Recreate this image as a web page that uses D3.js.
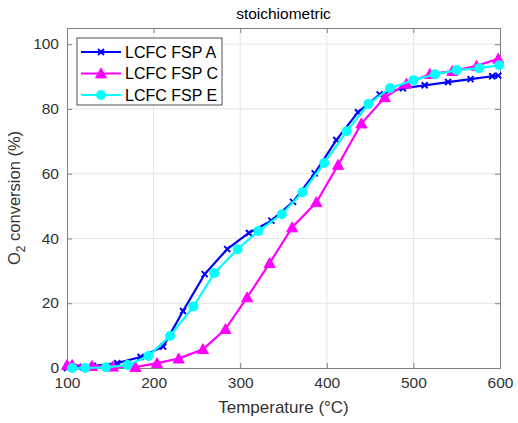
<!DOCTYPE html>
<html>
<head>
<meta charset="utf-8">
<script src="https://cdn.jsdelivr.net/npm/d3@7"></script>
<style>
  body { margin: 0; background: #fff; }
  text { font-family: "Liberation Sans", Arial, sans-serif; }
</style>
</head>
<body>
<svg id="chart" width="518" height="423"></svg>
<script>
// temperatures (°C) and O2 conversion (%)
const tempA = [100, 113, 130, 158, 185, 211, 234, 259, 285, 310, 336, 361, 386, 411, 436, 461, 488, 513, 540, 566, 591, 598];
const convA = [0, 0.3, 0.6, 1.5, 3.4, 6.6, 17.6, 29, 36.7, 41.7, 45.5, 51.3, 60.1, 70.4, 79, 84.5, 86.4, 87.3, 88.3, 89.2, 90.1, 90.3];

const tempC = [100, 106, 129, 153, 179, 204, 229, 257, 283, 308, 334, 360, 388, 413, 440, 467, 492, 519, 545, 573, 598];
const convC = [0.9, 0.9, 0.6, 0.4, 0.3, 1.5, 2.9, 5.8, 12, 21.8, 32.4, 43.4, 51.2, 62.7, 75.5, 83.6, 87.8, 90.8, 91.7, 93.3, 95.5];

const tempE = [106, 121, 145, 170, 194, 219, 246, 270, 297, 321, 348, 372, 397, 423, 448, 473, 500, 525, 550, 576, 599];
const convE = [0, 0, 0.2, 0.9, 3.7, 9.9, 19, 29.3, 36.7, 42.3, 47.5, 54.3, 63.3, 73.1, 81.5, 86.4, 88.9, 90.7, 92, 92.6, 93.5];

const seriesNames = ['LCFC FSP A', 'LCFC FSP C', 'LCFC FSP E'];
const xTicks = [100, 200, 300, 400, 500, 600];
const yTicks = [0, 20, 40, 60, 80, 100];

const series = [
  { name: seriesNames[0], t: tempA, v: convA, color: '#0000ff', marker: 'x' },
  { name: seriesNames[1], t: tempC, v: convC, color: '#ff00ff', marker: 'tri' },
  { name: seriesNames[2], t: tempE, v: convE, color: '#00ffff', marker: 'circle' }
];

const svg = d3.select('#chart');
const pLeft = 67, pRight = 500, pTop = 28, pBottom = 368;
const axisColor = '#808080', textColor = '#333333';

const x = d3.scaleLinear().domain([100, 600]).range([pLeft, pRight]);
const y = d3.scaleLinear().domain([0, 105]).range([pBottom, pTop]);

// grid
const grid = svg.append('g');
grid.selectAll('line.gx').data(xTicks.slice(1, -1)).enter().append('line')
  .attr('x1', d => x(d)).attr('x2', d => x(d)).attr('y1', pTop).attr('y2', pBottom)
  .attr('stroke', '#e5e5e5').attr('stroke-width', 1);
grid.selectAll('line.gy').data(yTicks.slice(1)).enter().append('line')
  .attr('x1', pLeft).attr('x2', pRight).attr('y1', d => y(d)).attr('y2', d => y(d))
  .attr('stroke', '#e5e5e5').attr('stroke-width', 1);

// axes (ticks inside, box)
const xAxis = svg.append('g').attr('transform', `translate(0,${pBottom})`)
  .call(d3.axisBottom(x).tickValues(xTicks).tickSize(-5).tickPadding(12));
const xTop = svg.append('g').attr('transform', `translate(0,${pTop})`)
  .call(d3.axisTop(x).tickValues(xTicks).tickSize(-5).tickFormat(''));
const yAxis = svg.append('g').attr('transform', `translate(${pLeft},0)`)
  .call(d3.axisLeft(y).tickValues(yTicks).tickSize(-5).tickPadding(8));
const yRight = svg.append('g').attr('transform', `translate(${pRight},0)`)
  .call(d3.axisRight(y).tickValues(yTicks).tickSize(-5).tickFormat(''));

[xAxis, xTop, yAxis, yRight].forEach(g => {
  g.selectAll('path').attr('stroke', axisColor).attr('stroke-width', 1);
  g.selectAll('line').attr('stroke', axisColor);
  g.selectAll('text').attr('fill', textColor).style('font-size', '15.5px');
});
xAxis.selectAll('text').attr('dy', '0.5em');
yAxis.selectAll('text').attr('dy', '0.3em');

// series
const line = d3.line();
const plot = svg.append('g');

function drawMarker(g, type, color, cx, cy) {
  if (type === 'circle') {
    g.append('circle').attr('cx', cx).attr('cy', cy).attr('r', 5).attr('fill', color);
  } else if (type === 'tri') {
    const s = 5.5;
    g.append('path')
      .attr('d', `M${cx},${cy - s}L${cx + s},${cy + s * 0.8}L${cx - s},${cy + s * 0.8}Z`)
      .attr('fill', color).attr('stroke', color).attr('stroke-width', 1);
  } else {
    const s = 3;
    g.append('path')
      .attr('d', `M${cx - s},${cy - s}L${cx + s},${cy + s}M${cx - s},${cy + s}L${cx + s},${cy - s}`)
      .attr('stroke', color).attr('stroke-width', 2);
  }
}

series.forEach(s => {
  const pts = s.t.map((t, i) => [x(t), y(s.v[i])]);
  const g = plot.append('g');
  g.append('path').attr('d', line(pts)).attr('fill', 'none')
    .attr('stroke', s.color).attr('stroke-width', 2.2);
  pts.forEach(p => drawMarker(g, s.marker, s.color, p[0], p[1]));
});

// legend
const lg = svg.append('g');
lg.append('rect').attr('x', 77).attr('y', 38).attr('width', 145).attr('height', 67)
  .attr('fill', '#fff').attr('stroke', '#262626').attr('stroke-width', 0.8);
series.forEach((s, i) => {
  const ly = 52 + i * 21.5;
  lg.append('line').attr('x1', 81).attr('x2', 121).attr('y1', ly).attr('y2', ly)
    .attr('stroke', s.color).attr('stroke-width', 2.2);
  drawMarker(lg, s.marker, s.color, 101, ly);
  lg.append('text').attr('x', 125).attr('y', ly).attr('dy', '0.36em')
    .attr('fill', '#000').style('font-size', '16px').text(s.name);
});

// labels
svg.append('text').attr('x', (pLeft + pRight) / 2).attr('y', 19).attr('text-anchor', 'middle')
  .attr('fill', '#000').style('font-size', '15.5px').text('stoichiometric');
svg.append('text').attr('x', (pLeft + pRight) / 2).attr('y', 413).attr('text-anchor', 'middle')
  .attr('fill', textColor).style('font-size', '17px').text('Temperature (°C)');
const yl = svg.append('text').attr('transform', `translate(20,${(pTop + pBottom) / 2}) rotate(-90)`)
  .attr('text-anchor', 'middle').attr('fill', textColor).style('font-size', '16.5px');
yl.append('tspan').text('O');
yl.append('tspan').attr('dy', 5).style('font-size', '12px').text('2');
yl.append('tspan').attr('dy', -5).text(' conversion (%)');
</script>
</body>
</html>
